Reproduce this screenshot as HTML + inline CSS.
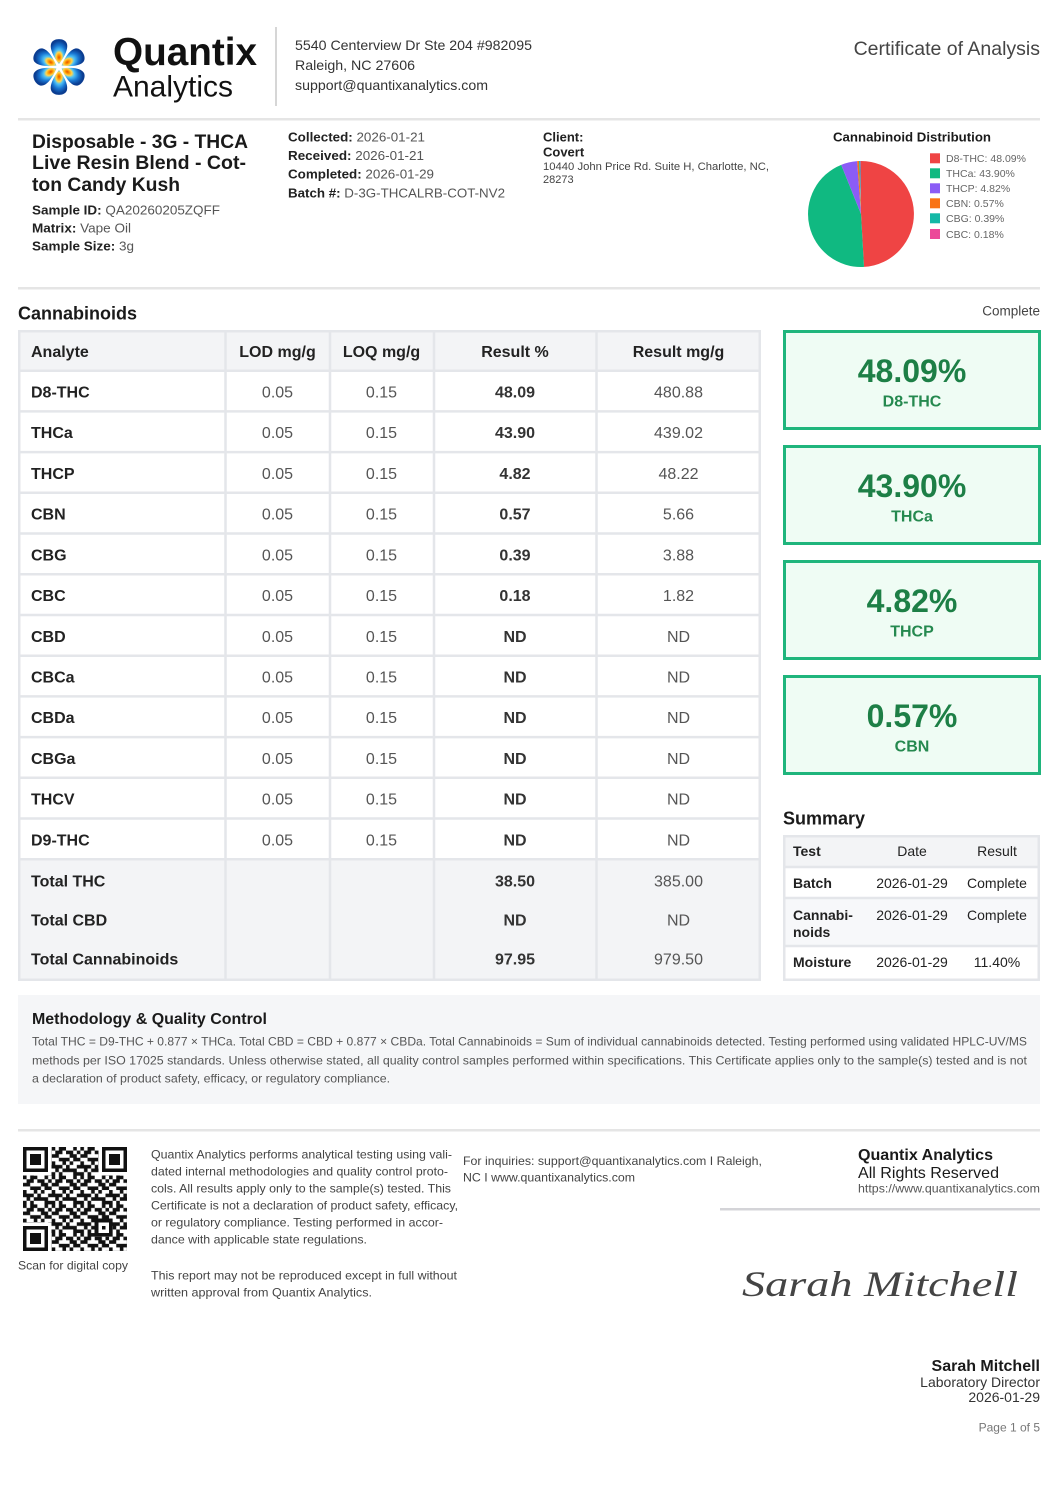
<!DOCTYPE html>
<html><head><meta charset="utf-8"><style>
html,body{margin:0;padding:0;background:#fff;}
svg{display:block;}
</style></head><body>
<svg width="1058" height="1497" viewBox="0 0 1058 1497" xmlns="http://www.w3.org/2000/svg" font-family="'Liberation Sans', Arial, sans-serif">
<defs>
<radialGradient id="pg" cx="0.5" cy="0.68" r="0.62" fx="0.5" fy="0.74">
<stop offset="0" stop-color="#e65100"/><stop offset="0.15" stop-color="#ff9800"/><stop offset="0.3" stop-color="#ffd54f"/><stop offset="0.45" stop-color="#4fc3f7"/><stop offset="0.72" stop-color="#1976d2"/><stop offset="1" stop-color="#0b3d91"/>
</radialGradient>
<path id="petal" d="M0,-3 C-4,-8 -9.5,-17 -8,-23 C-6.5,-29.5 6.5,-29.5 8,-23 C9.5,-17 4,-8 0,-3 Z" fill="url(#pg)"/>
<pattern id="qrp" patternUnits="userSpaceOnUse" width="8" height="8">
<path d="M0 0h1v1h-1z M2 0h2v1h-2z M6 0h1v1h-1z M1 1h2v1h-2z M4 1h2v1h-2z M7 1h1v1h-1z M0 2h2v1h-2z M5 2h2v1h-2z M2 3h3v1h-3z M6 3h2v1h-2z M0 4h1v1h-1z M3 4h1v1h-1z M5 4h1v1h-1z M0 5h3v1h-3z M4 5h1v1h-1z M7 5h1v1h-1z M1 6h1v1h-1z M3 6h4v1h-4z M0 7h1v1h-1z M2 7h1v1h-1z M6 7h2v1h-2z" fill="#111"/>
</pattern>
</defs>

<!-- Header -->
<g transform="translate(59,67)">
<use href="#petal"/><use href="#petal" transform="rotate(60)"/><use href="#petal" transform="rotate(120)"/><use href="#petal" transform="rotate(180)"/><use href="#petal" transform="rotate(240)"/><use href="#petal" transform="rotate(300)"/>
</g>
<text x="113" y="65" font-size="39" font-weight="700" fill="#111" textLength="144" lengthAdjust="spacingAndGlyphs">Quantix</text>
<text x="113" y="96.5" font-size="30" fill="#111" textLength="120" lengthAdjust="spacingAndGlyphs">Analytics</text>
<rect x="275" y="27" width="2" height="79" fill="#d6d6d6"/>
<text x="295" y="50" font-size="14" fill="#333" textLength="237" lengthAdjust="spacingAndGlyphs">5540 Centerview Dr Ste 204 #982095</text>
<text x="295" y="70" font-size="14" fill="#333" textLength="120" lengthAdjust="spacingAndGlyphs">Raleigh, NC 27606</text>
<text x="295" y="90" font-size="14" fill="#333" textLength="193" lengthAdjust="spacingAndGlyphs">support@quantixanalytics.com</text>
<text x="1040" y="55" font-size="19.5" fill="#444" text-anchor="end">Certificate of Analysis</text>
<rect x="18" y="118" width="1022" height="2.5" fill="#e5e5e5"/>

<!-- Sample info -->
<text x="32" y="147.8" font-size="19" font-weight="700" fill="#1a1a1a" textLength="216" lengthAdjust="spacingAndGlyphs">Disposable - 3G - THCA</text>
<text x="32" y="169.1" font-size="19" font-weight="700" fill="#1a1a1a" textLength="214" lengthAdjust="spacingAndGlyphs">Live Resin Blend - Cot-</text>
<text x="32" y="190.8" font-size="19" font-weight="700" fill="#1a1a1a" textLength="148" lengthAdjust="spacingAndGlyphs">ton Candy Kush</text>
<text x="32" y="214.5" font-size="13" textLength="188" lengthAdjust="spacingAndGlyphs"><tspan font-weight="700" fill="#222">Sample ID:</tspan> <tspan fill="#555">QA20260205ZQFF</tspan></text>
<text x="32" y="232.5" font-size="13" textLength="99" lengthAdjust="spacingAndGlyphs"><tspan font-weight="700" fill="#222">Matrix:</tspan> <tspan fill="#555">Vape Oil</tspan></text>
<text x="32" y="250.5" font-size="13" textLength="102" lengthAdjust="spacingAndGlyphs"><tspan font-weight="700" fill="#222">Sample Size:</tspan> <tspan fill="#555">3g</tspan></text>

<text x="288" y="141.4" font-size="13" textLength="137" lengthAdjust="spacingAndGlyphs"><tspan font-weight="700" fill="#222">Collected:</tspan> <tspan fill="#555">2026-01-21</tspan></text>
<text x="288" y="160" font-size="13" textLength="136" lengthAdjust="spacingAndGlyphs"><tspan font-weight="700" fill="#222">Received:</tspan> <tspan fill="#555">2026-01-21</tspan></text>
<text x="288" y="178.7" font-size="13" textLength="146" lengthAdjust="spacingAndGlyphs"><tspan font-weight="700" fill="#222">Completed:</tspan> <tspan fill="#555">2026-01-29</tspan></text>
<text x="288" y="197.4" font-size="13" textLength="217" lengthAdjust="spacingAndGlyphs"><tspan font-weight="700" fill="#222">Batch #:</tspan> <tspan fill="#555">D-3G-THCALRB-COT-NV2</tspan></text>

<text x="543" y="141.5" font-size="13" font-weight="700" fill="#222">Client:</text>
<text x="543" y="156.5" font-size="13" font-weight="700" fill="#222">Covert</text>
<text x="543" y="170" font-size="11" fill="#444" textLength="226" lengthAdjust="spacingAndGlyphs">10440 John Price Rd. Suite H, Charlotte, NC,</text>
<text x="543" y="183" font-size="11" fill="#444">28273</text>

<text x="912" y="141.5" font-size="13" font-weight="700" fill="#1a1a1a" text-anchor="middle" textLength="158" lengthAdjust="spacingAndGlyphs">Cannabinoid Distribution</text>
<path d="M861 214 L861 161 A53 53 0 0 1 864.01 266.91 Z" fill="#ef4444"/>
<path d="M861 214 L864.01 266.91 A53 53 0 0 1 841.23 164.83 Z" fill="#10b981"/>
<path d="M861 214 L841.23 164.83 A53 53 0 0 1 857.13 161.14 Z" fill="#8b5cf6"/>
<path d="M861 214 L857.13 161.14 A53 53 0 0 1 859.07 161.04 Z" fill="#f97316"/>
<path d="M861 214 L859.07 161.04 A53 53 0 0 1 860.39 161.0 Z" fill="#14b8a6"/>
<path d="M861 214 L860.39 161.0 A53 53 0 0 1 861 161 Z" fill="#ec4899"/>
<g font-size="10.5" fill="#666">
<rect x="930" y="153.3" width="10" height="10" fill="#ef4444"/><text x="946" y="162" textLength="80" lengthAdjust="spacingAndGlyphs">D8-THC: 48.09%</text>
<rect x="930" y="168.3" width="10" height="10" fill="#10b981"/><text x="946" y="177">THCa: 43.90%</text>
<rect x="930" y="183.3" width="10" height="10" fill="#8b5cf6"/><text x="946" y="192">THCP: 4.82%</text>
<rect x="930" y="198.3" width="10" height="10" fill="#f97316"/><text x="946" y="207">CBN: 0.57%</text>
<rect x="930" y="213.3" width="10" height="10" fill="#14b8a6"/><text x="946" y="222">CBG: 0.39%</text>
<rect x="930" y="229" width="10" height="10" fill="#ec4899"/><text x="946" y="238">CBC: 0.18%</text>
</g>
<rect x="18" y="287" width="1022" height="2.5" fill="#e5e5e5"/>

<!-- Cannabinoids table -->
<text x="18" y="319.5" font-size="18" font-weight="700" fill="#1a1a1a">Cannabinoids</text>
<text x="1040" y="315.7" font-size="13.5" fill="#444" text-anchor="end">Complete</text>

<rect x="18" y="330" width="743" height="41" fill="#f3f4f6"/>
<rect x="18" y="859.3" width="743" height="121" fill="#f3f4f6"/>
<g stroke="#e4e6ea" stroke-width="2.5" fill="none">
<rect x="19.25" y="331.25" width="740.5" height="648.5"/>
<line x1="18" y1="370.7" x2="761" y2="370.7"/>
<line x1="18" y1="411.4" x2="761" y2="411.4"/>
<line x1="18" y1="452.1" x2="761" y2="452.1"/>
<line x1="18" y1="492.8" x2="761" y2="492.8"/>
<line x1="18" y1="533.5" x2="761" y2="533.5"/>
<line x1="18" y1="574.3" x2="761" y2="574.3"/>
<line x1="18" y1="615" x2="761" y2="615"/>
<line x1="18" y1="655.7" x2="761" y2="655.7"/>
<line x1="18" y1="696.4" x2="761" y2="696.4"/>
<line x1="18" y1="737.1" x2="761" y2="737.1"/>
<line x1="18" y1="777.8" x2="761" y2="777.8"/>
<line x1="18" y1="818.5" x2="761" y2="818.5"/>
<line x1="18" y1="859.3" x2="761" y2="859.3"/>
<line x1="225.5" y1="330" x2="225.5" y2="981"/>
<line x1="330" y1="330" x2="330" y2="981"/>
<line x1="434" y1="330" x2="434" y2="981"/>
<line x1="596.5" y1="330" x2="596.5" y2="981"/>
</g>
<g font-size="16" font-weight="700" fill="#222">
<text x="31" y="357">Analyte</text>
<text x="277.5" y="357" text-anchor="middle">LOD mg/g</text>
<text x="381.5" y="357" text-anchor="middle">LOQ mg/g</text>
<text x="515" y="357" text-anchor="middle">Result %</text>
<text x="678.5" y="357" text-anchor="middle">Result mg/g</text>
</g>
<g font-size="16">
<g font-weight="700" fill="#222">
<text x="31" y="397.5">D8-THC</text><text x="31" y="438.2">THCa</text><text x="31" y="478.9">THCP</text><text x="31" y="519.6">CBN</text><text x="31" y="560.3">CBG</text><text x="31" y="601">CBC</text><text x="31" y="641.8">CBD</text><text x="31" y="682.5">CBCa</text><text x="31" y="723.2">CBDa</text><text x="31" y="763.9">CBGa</text><text x="31" y="804.6">THCV</text><text x="31" y="845.3">D9-THC</text>
<text x="31" y="886.5">Total THC</text><text x="31" y="925.5">Total CBD</text><text x="31" y="964.3">Total Cannabinoids</text>
</g>
<g fill="#555" text-anchor="middle">
<text x="277.5" y="397.5">0.05</text><text x="277.5" y="438.2">0.05</text><text x="277.5" y="478.9">0.05</text><text x="277.5" y="519.6">0.05</text><text x="277.5" y="560.3">0.05</text><text x="277.5" y="601">0.05</text><text x="277.5" y="641.8">0.05</text><text x="277.5" y="682.5">0.05</text><text x="277.5" y="723.2">0.05</text><text x="277.5" y="763.9">0.05</text><text x="277.5" y="804.6">0.05</text><text x="277.5" y="845.3">0.05</text>
<text x="381.5" y="397.5">0.15</text><text x="381.5" y="438.2">0.15</text><text x="381.5" y="478.9">0.15</text><text x="381.5" y="519.6">0.15</text><text x="381.5" y="560.3">0.15</text><text x="381.5" y="601">0.15</text><text x="381.5" y="641.8">0.15</text><text x="381.5" y="682.5">0.15</text><text x="381.5" y="723.2">0.15</text><text x="381.5" y="763.9">0.15</text><text x="381.5" y="804.6">0.15</text><text x="381.5" y="845.3">0.15</text>
<text x="678.5" y="397.5">480.88</text><text x="678.5" y="438.2">439.02</text><text x="678.5" y="478.9">48.22</text><text x="678.5" y="519.6">5.66</text><text x="678.5" y="560.3">3.88</text><text x="678.5" y="601">1.82</text><text x="678.5" y="641.8">ND</text><text x="678.5" y="682.5">ND</text><text x="678.5" y="723.2">ND</text><text x="678.5" y="763.9">ND</text><text x="678.5" y="804.6">ND</text><text x="678.5" y="845.3">ND</text>
<text x="678.5" y="886.5">385.00</text><text x="678.5" y="925.5">ND</text><text x="678.5" y="964.3">979.50</text>
</g>
<g fill="#333" font-weight="700" text-anchor="middle">
<text x="515" y="397.5">48.09</text><text x="515" y="438.2">43.90</text><text x="515" y="478.9">4.82</text><text x="515" y="519.6">0.57</text><text x="515" y="560.3">0.39</text><text x="515" y="601">0.18</text><text x="515" y="641.8">ND</text><text x="515" y="682.5">ND</text><text x="515" y="723.2">ND</text><text x="515" y="763.9">ND</text><text x="515" y="804.6">ND</text><text x="515" y="845.3">ND</text>
<text x="515" y="886.5">38.50</text><text x="515" y="925.5">ND</text><text x="515" y="964.3">97.95</text>
</g>
</g>

<!-- Cards -->
<g stroke="#1fb57c" stroke-width="3" fill="#effcf4">
<rect x="784.5" y="331.5" width="255" height="97"/>
<rect x="784.5" y="446.5" width="255" height="97"/>
<rect x="784.5" y="561.5" width="255" height="97"/>
<rect x="784.5" y="676.5" width="255" height="97"/>
</g>
<g text-anchor="middle" font-weight="700">
<g font-size="32" fill="#1d7f46">
<text x="912" y="382">48.09%</text><text x="912" y="497">43.90%</text><text x="912" y="612">4.82%</text><text x="912" y="727">0.57%</text>
</g>
<g font-size="16" fill="#25894f">
<text x="912" y="406.5">D8-THC</text><text x="912" y="521.5">THCa</text><text x="912" y="636.5">THCP</text><text x="912" y="751.5">CBN</text>
</g>
</g>

<!-- Summary -->
<text x="783" y="824.5" font-size="18" font-weight="700" fill="#1a1a1a">Summary</text>
<rect x="783" y="835" width="257" height="32" fill="#f3f4f6"/>
<rect x="783" y="898" width="257" height="48" fill="#f7f8fa"/>
<g stroke="#e4e6ea" stroke-width="2.5" fill="none">
<rect x="784.25" y="836.25" width="254.5" height="143.5"/>
<line x1="783" y1="867" x2="1040" y2="867"/>
<line x1="783" y1="898" x2="1040" y2="898"/>
<line x1="783" y1="946" x2="1040" y2="946"/>
</g>
<g font-size="14" fill="#222">
<text x="793" y="856" font-weight="700">Test</text>
<text x="912" y="856" text-anchor="middle">Date</text>
<text x="997" y="856" text-anchor="middle">Result</text>
<text x="793" y="888" font-weight="700">Batch</text>
<text x="912" y="888" text-anchor="middle">2026-01-29</text>
<text x="997" y="888" text-anchor="middle">Complete</text>
<text x="793" y="920" font-weight="700">Cannabi-</text>
<text x="793" y="937" font-weight="700">noids</text>
<text x="912" y="920" text-anchor="middle">2026-01-29</text>
<text x="997" y="920" text-anchor="middle">Complete</text>
<text x="793" y="967" font-weight="700">Moisture</text>
<text x="912" y="967" text-anchor="middle">2026-01-29</text>
<text x="997" y="967" text-anchor="middle">11.40%</text>
</g>

<!-- Methodology -->
<rect x="18" y="995" width="1022" height="109" fill="#f5f6f8"/>
<text x="32" y="1023.8" font-size="16" font-weight="700" fill="#1a1a1a" textLength="235" lengthAdjust="spacingAndGlyphs">Methodology &amp; Quality Control</text>
<g font-size="12" fill="#555">
<text x="32" y="1045.3" textLength="995" lengthAdjust="spacingAndGlyphs">Total THC = D9-THC + 0.877 × THCa. Total CBD = CBD + 0.877 × CBDa. Total Cannabinoids = Sum of individual cannabinoids detected. Testing performed using validated HPLC-UV/MS</text>
<text x="32" y="1064.3" textLength="995" lengthAdjust="spacingAndGlyphs">methods per ISO 17025 standards. Unless otherwise stated, all quality control samples performed within specifications. This Certificate applies only to the sample(s) tested and is not</text>
<text x="32" y="1082.3" textLength="358" lengthAdjust="spacingAndGlyphs">a declaration of product safety, efficacy, or regulatory compliance.</text>
</g>

<!-- Footer -->
<rect x="18" y="1129" width="1022" height="2.5" fill="#e5e5e5"/>
<svg x="23" y="1147" width="104" height="104" viewBox="0 0 29 29" shape-rendering="crispEdges">
<rect x="0" y="0" width="29" height="29" fill="url(#qrp)"/>
<rect x="0" y="0" width="8" height="8" fill="#fff"/><rect x="0" y="0" width="7" height="7" fill="#111"/><rect x="1" y="1" width="5" height="5" fill="#fff"/><rect x="2" y="2" width="3" height="3" fill="#111"/>
<rect x="21" y="0" width="8" height="8" fill="#fff"/><rect x="22" y="0" width="7" height="7" fill="#111"/><rect x="23" y="1" width="5" height="5" fill="#fff"/><rect x="24" y="2" width="3" height="3" fill="#111"/>
<rect x="0" y="21" width="8" height="8" fill="#fff"/><rect x="0" y="22" width="7" height="7" fill="#111"/><rect x="1" y="23" width="5" height="5" fill="#fff"/><rect x="2" y="24" width="3" height="3" fill="#111"/>
<rect x="20" y="20" width="5" height="5" fill="#111"/><rect x="21" y="21" width="3" height="3" fill="#fff"/><rect x="22" y="22" width="1" height="1" fill="#111"/>
</svg>
<text x="73" y="1269.3" font-size="12" fill="#444" text-anchor="middle" textLength="110" lengthAdjust="spacingAndGlyphs">Scan for digital copy</text>

<g font-size="12" fill="#444">
<text x="151" y="1158.3" textLength="301" lengthAdjust="spacingAndGlyphs">Quantix Analytics performs analytical testing using vali-</text>
<text x="151" y="1175.3" textLength="297" lengthAdjust="spacingAndGlyphs">dated internal methodologies and quality control proto-</text>
<text x="151" y="1192.3" textLength="300" lengthAdjust="spacingAndGlyphs">cols. All results apply only to the sample(s) tested. This</text>
<text x="151" y="1209.3" textLength="307" lengthAdjust="spacingAndGlyphs">Certificate is not a declaration of product safety, efficacy,</text>
<text x="151" y="1226.3" textLength="292" lengthAdjust="spacingAndGlyphs">or regulatory compliance. Testing performed in accor-</text>
<text x="151" y="1243.3" textLength="216" lengthAdjust="spacingAndGlyphs">dance with applicable state regulations.</text>
<text x="151" y="1279.3" textLength="306" lengthAdjust="spacingAndGlyphs">This report may not be reproduced except in full without</text>
<text x="151" y="1296.3" textLength="221" lengthAdjust="spacingAndGlyphs">written approval from Quantix Analytics.</text>
<text x="463" y="1165" textLength="299" lengthAdjust="spacingAndGlyphs">For inquiries: support@quantixanalytics.com I Raleigh,</text>
<text x="463" y="1181.5" textLength="172" lengthAdjust="spacingAndGlyphs">NC I www.quantixanalytics.com</text>
</g>

<text x="858" y="1159.8" font-size="16" font-weight="700" fill="#1a1a1a" textLength="135" lengthAdjust="spacingAndGlyphs">Quantix Analytics</text>
<text x="858" y="1177.8" font-size="16" fill="#1a1a1a" textLength="141" lengthAdjust="spacingAndGlyphs">All Rights Reserved</text>
<text x="858" y="1192.3" font-size="12" fill="#555" textLength="182" lengthAdjust="spacingAndGlyphs">https://www.quantixanalytics.com</text>
<rect x="720" y="1208" width="320" height="2.5" fill="#d4d4d8"/>

<text x="742" y="1296" font-family="'Liberation Serif', serif" font-style="italic" font-size="36" fill="#444" textLength="276" lengthAdjust="spacingAndGlyphs">Sarah Mitchell</text>

<text x="1040" y="1370.8" font-size="16" font-weight="700" fill="#1a1a1a" text-anchor="end">Sarah Mitchell</text>
<text x="1040" y="1387" font-size="14" fill="#333" text-anchor="end">Laboratory Director</text>
<text x="1040" y="1402" font-size="14" fill="#333" text-anchor="end">2026-01-29</text>
<text x="1040" y="1431.3" font-size="12" fill="#777" text-anchor="end">Page 1 of 5</text>
</svg>
</body></html>
